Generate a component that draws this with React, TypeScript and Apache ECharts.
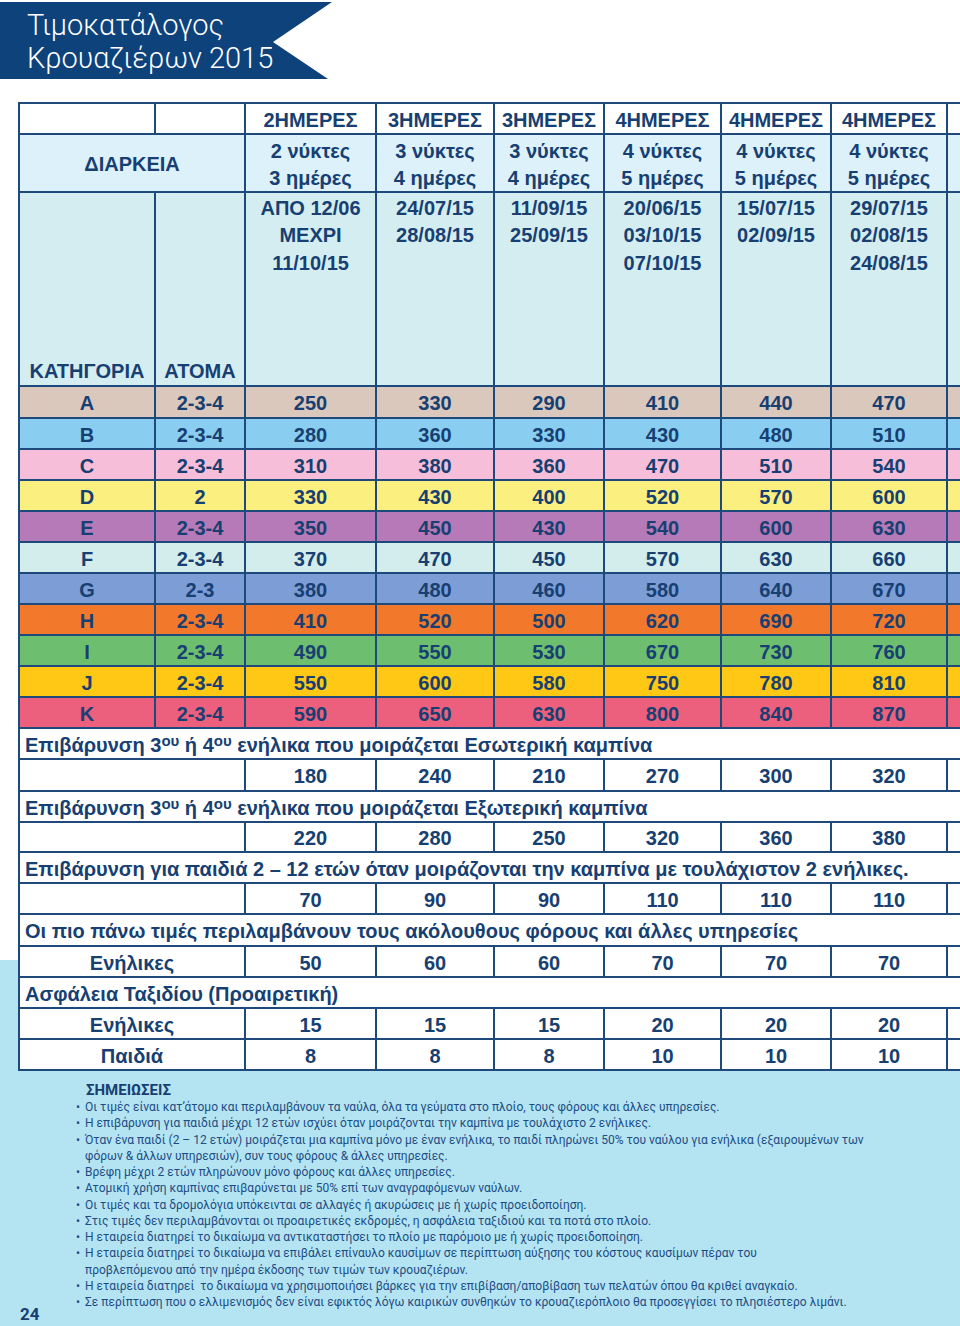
import React, { useEffect, useRef } from 'react';
import * as echarts from 'echarts';

// ---------- DATA ----------
const durationLabels = ['2ΗΜΕΡΕΣ', '3ΗΜΕΡΕΣ', '3ΗΜΕΡΕΣ', '4ΗΜΕΡΕΣ', '4ΗΜΕΡΕΣ', '4ΗΜΕΡΕΣ'];
const nightsLabels = ['2 νύκτες', '3 νύκτες', '3 νύκτες', '4 νύκτες', '4 νύκτες', '4 νύκτες'];
const daysLabels = ['3 ημέρες', '4 ημέρες', '4 ημέρες', '5 ημέρες', '5 ημέρες', '5 ημέρες'];
const dateLabels = [
  ['ΑΠΟ 12/06', 'ΜΕΧΡΙ', '11/10/15'],
  ['24/07/15', '28/08/15'],
  ['11/09/15', '25/09/15'],
  ['20/06/15', '03/10/15', '07/10/15'],
  ['15/07/15', '02/09/15'],
  ['29/07/15', '02/08/15', '24/08/15'],
];
const categories = ['A', 'B', 'C', 'D', 'E', 'F', 'G', 'H', 'I', 'J', 'K'];
const persons = ['2-3-4', '2-3-4', '2-3-4', '2', '2-3-4', '2-3-4', '2-3', '2-3-4', '2-3-4', '2-3-4', '2-3-4'];

const prices2Days = [250, 280, 310, 330, 350, 370, 380, 410, 490, 550, 590];
const prices3DaysA = [330, 360, 380, 430, 450, 470, 480, 520, 550, 600, 650];
const prices3DaysB = [290, 330, 360, 400, 430, 450, 460, 500, 530, 580, 630];
const prices4DaysA = [410, 430, 470, 520, 540, 570, 580, 620, 670, 750, 800];
const prices4DaysB = [440, 480, 510, 570, 600, 630, 640, 690, 730, 780, 840];
const prices4DaysC = [470, 510, 540, 600, 630, 660, 670, 720, 760, 810, 870];

const surchargeInner = [180, 240, 210, 270, 300, 320];
const surchargeOuter = [220, 280, 250, 320, 360, 380];
const surchargeChild = [70, 90, 90, 110, 110, 110];
const taxesAdults = [50, 60, 60, 70, 70, 70];
const insuranceAdults = [15, 15, 15, 20, 20, 20];
const insuranceChildren = [8, 8, 8, 10, 10, 10];

const noteLines = [
  'Οι τιμές είναι κατ’άτομο και περιλαμβάνουν τα ναύλα, όλα τα γεύματα στο πλοίο, τους φόρους και άλλες υπηρεσίες.',
  'Η επιβάρυνση για παιδιά μέχρι 12 ετών ισχύει όταν μοιράζονται την καμπίνα με τουλάχιστο 2 ενήλικες.',
  'Όταν ένα παιδί (2 – 12 ετών) μοιράζεται μια καμπίνα μόνο με έναν ενήλικα, το παιδί πληρώνει 50% του ναύλου για ενήλικα (εξαιρουμένων των',
  '+φόρων & άλλων υπηρεσιών), συν τους φόρους & άλλες υπηρεσίες.',
  'Βρέφη μέχρι 2 ετών πληρώνουν μόνο φόρους και άλλες υπηρεσίες.',
  'Ατομική χρήση καμπίνας επιβαρύνεται με 50% επί των αναγραφόμενων ναύλων.',
  'Οι τιμές και τα δρομολόγια υπόκεινται σε αλλαγές ή ακυρώσεις με ή χωρίς προειδοποίηση.',
  'Στις τιμές δεν περιλαμβάνονται οι προαιρετικές εκδρομές, η ασφάλεια ταξιδιού και τα ποτά στο πλοίο.',
  'Η εταιρεία διατηρεί το δικαίωμα να αντικαταστήσει το πλοίο με παρόμοιο με ή χωρίς προειδοποίηση.',
  'Η εταιρεία διατηρεί το δικαίωμα να επιβάλει επίναυλο καυσίμων σε περίπτωση αύξησης του κόστους καυσίμων πέραν του',
  '+προβλεπόμενου από την ημέρα έκδοσης των τιμών των κρουαζιέρων.',
  'Η εταιρεία διατηρεί  το δικαίωμα να χρησιμοποιήσει βάρκες για την επιβίβαση/αποβίβαση των πελατών όπου θα κριθεί αναγκαίο.',
  'Σε περίπτωση που ο ελλιμενισμός δεν είναι εφικτός λόγω καιρικών συνθηκών το κρουαζιερόπλοιο θα προσεγγίσει το πλησιέστερο λιμάνι.',
];

// ---------- STYLE / LAYOUT ----------
const W = 960;
const H = 1326;
const BORDER = '#1d4a7b';
const TXT = '#173f72';
const NOTE_TXT = '#1d4c85';
const ROW2 = '#dcf1f9';
const ROW3 = '#d4edf0';
const BG_BLUE = '#b4e4f1';
const BANNER = '#0e427b';
const categoryColors = ['#dbc8bd', '#89cef0', '#f6bed8', '#fbef7f', '#b57ab7', '#d3eded', '#7d9dd6', '#f2792c', '#6dbe6e', '#ffc814', '#ec607e'];
const FONT = 'Roboto, "Liberation Sans", sans-serif';
const TFONT = '"Liberation Sans", Arial, sans-serif';

const colX = [19, 155, 245, 376, 494, 604, 721, 831, 947, 992];
const headY = [103, 134, 192, 386];
const catY = [386, 418, 449, 480, 511, 542, 573, 604, 635, 666, 697, 728];
const lowY = [728, 759, 791, 822, 852, 883, 914, 946, 977, 1008, 1039, 1070];

type Cell = {
  x0: number; y0: number; x1: number; y1: number;
  fill: string;
  text?: string;
  align?: 'left' | 'center';
  tx?: number; ty?: number;
  vAlign?: 'top' | 'middle';
  lineHeight?: number;
};

function buildCells(): Cell[] {
  const cells: Cell[] = [];
  const add = (x0: number, y0: number, x1: number, y1: number, fill: string, text?: string, o: Partial<Cell> = {}) =>
    cells.push({ x0, y0, x1, y1, fill, text, ...o });
  const priceColumns = [prices2Days, prices3DaysA, prices3DaysB, prices4DaysA, prices4DaysB, prices4DaysC];
  const [h0, h1, h2, h3] = headY;

  // header row 1
  add(colX[0], h0, colX[1], h1, '#ffffff');
  add(colX[1], h0, colX[2], h1, '#ffffff');
  durationLabels.forEach((d, i) => add(colX[i + 2], h0, colX[i + 3], h1, '#ffffff', d));
  add(colX[8], h0, colX[9], h1, '#ffffff');
  // header row 2
  add(colX[0], h1, colX[2], h2, ROW2, 'ΔΙΑΡΚΕΙΑ');
  nightsLabels.forEach((n, i) =>
    add(colX[i + 2], h1, colX[i + 3], h2, ROW2, n + '\n' + daysLabels[i], { lineHeight: 27, ty: (h1 + h2) / 2 + 1.5 }));
  add(colX[8], h1, colX[9], h2, ROW2);
  // header row 3
  add(colX[0], h2, colX[1], h3, ROW3, 'ΚΑΤΗΓΟΡΙΑ', { ty: h3 - 15 });
  add(colX[1], h2, colX[2], h3, ROW3, 'ΑΤΟΜΑ', { ty: h3 - 15 });
  dateLabels.forEach((d, i) =>
    add(colX[i + 2], h2, colX[i + 3], h3, ROW3, d.join('\n'), { lineHeight: 27.5, vAlign: 'top', ty: h2 + 2 }));
  add(colX[8], h2, colX[9], h3, ROW3);

  // category rows
  categories.forEach((cat, r) => {
    const y0 = catY[r];
    const y1 = catY[r + 1];
    const fill = categoryColors[r];
    add(colX[0], y0, colX[1], y1, fill, cat);
    add(colX[1], y0, colX[2], y1, fill, persons[r]);
    priceColumns.forEach((col, i) => add(colX[i + 2], y0, colX[i + 3], y1, fill, String(col[r])));
    add(colX[8], y0, colX[9], y1, fill);
  });

  // lower section
  const textRow = (k: number, text: string) =>
    add(colX[0], lowY[k], colX[9], lowY[k + 1], '#ffffff', text, { align: 'left', tx: colX[0] + 6 });
  const valueRow = (k: number, label: string, vals: number[]) => {
    add(colX[0], lowY[k], colX[2], lowY[k + 1], '#ffffff', label);
    vals.forEach((v, i) => add(colX[i + 2], lowY[k], colX[i + 3], lowY[k + 1], '#ffffff', String(v)));
    add(colX[8], lowY[k], colX[9], lowY[k + 1], '#ffffff');
  };
  textRow(0, 'Επιβάρυνση 3{sup|ου} ή 4{sup|ου} ενήλικα που μοιράζεται Εσωτερική καμπίνα');
  valueRow(1, '', surchargeInner);
  textRow(2, 'Επιβάρυνση 3{sup|ου} ή 4{sup|ου} ενήλικα που μοιράζεται Εξωτερική καμπίνα');
  valueRow(3, '', surchargeOuter);
  textRow(4, 'Επιβάρυνση για παιδιά 2 – 12 ετών όταν μοιράζονται την καμπίνα με τουλάχιστον 2 ενήλικες.');
  valueRow(5, '', surchargeChild);
  textRow(6, 'Οι πιο πάνω τιμές περιλαμβάνουν τους ακόλουθους φόρους και άλλες υπηρεσίες');
  valueRow(7, 'Ενήλικες', taxesAdults);
  textRow(8, 'Ασφάλεια Ταξιδίου (Προαιρετική)');
  valueRow(9, 'Ενήλικες', insuranceAdults);
  valueRow(10, 'Παιδιά', insuranceChildren);
  return cells;
}

export default function App() {
  const ref = useRef<HTMLDivElement>(null);
  useEffect(() => {
    if (!ref.current) return;
    const chart = echarts.init(ref.current, undefined, { renderer: 'svg' });
    const cells = buildCells();

    const noteGraphics: any[] = [];
    noteLines.forEach((line, i) => {
      const y = 1107 + i * 16.25;
      const cont = line.startsWith('+');
      if (!cont) {
        noteGraphics.push({
          type: 'text', x: 76, y, z: 10,
          style: { text: '•', fill: NOTE_TXT, fontSize: 12, fontFamily: FONT, verticalAlign: 'middle', align: 'left' },
        });
      }
      noteGraphics.push({
        type: 'text', x: 85, y, z: 10,
        style: { text: cont ? line.slice(1) : line, fill: NOTE_TXT, fontSize: 12, fontFamily: FONT, verticalAlign: 'middle', align: 'left' },
      });
    });

    chart.setOption({
      animation: false,
      backgroundColor: '#ffffff',
      grid: { left: 0, right: 0, top: 0, bottom: 0 },
      xAxis: { type: 'value', min: 0, max: W, show: false },
      yAxis: { type: 'value', min: 0, max: H, inverse: true, show: false },
      graphic: [
        { type: 'rect', z: 0, shape: { x: 0, y: 960, width: W, height: H - 960 }, style: { fill: BG_BLUE } },
        {
          type: 'polygon', z: 5,
          shape: { points: [[0, 2], [332, 2], [273, 42], [328, 79], [0, 79]] },
          style: { fill: BANNER },
        },
        {
          type: 'text', x: 27, y: 25, z: 6,
          style: { text: 'Τιμοκατάλογος', fill: '#ffffff', fontSize: 29, fontWeight: 300, fontFamily: FONT, verticalAlign: 'middle' },
        },
        {
          type: 'text', x: 27, y: 58, z: 6,
          style: { text: 'Κρουαζιέρων 2015', fill: '#ffffff', fontSize: 29, fontWeight: 300, fontFamily: FONT, verticalAlign: 'middle' },
        },
        {
          type: 'text', x: 86, y: 1090, z: 10,
          style: { text: 'ΣΗΜΕΙΩΣΕΙΣ', fill: TXT, fontSize: 15, fontWeight: 'bold', fontFamily: FONT, verticalAlign: 'middle' },
        },
        {
          type: 'text', x: 20, y: 1314, z: 10,
          style: { text: '24', fill: TXT, fontSize: 17, fontWeight: 'bold', fontFamily: FONT, verticalAlign: 'middle' },
        },
        ...noteGraphics,
      ],
      series: [
        {
          type: 'custom',
          z: 3,
          clip: false,
          encode: { x: [0, 2], y: [1, 3] },
          data: cells.map((c) => [c.x0, c.y0, c.x1, c.y1]),
          renderItem: (params: any, api: any) => {
            const c = cells[params.dataIndex];
            const p0 = api.coord([c.x0, c.y0]);
            const p1 = api.coord([c.x1, c.y1]);
            const children: any[] = [
              {
                type: 'rect',
                shape: { x: p0[0], y: p0[1], width: p1[0] - p0[0], height: p1[1] - p0[1] },
                style: { fill: c.fill, stroke: BORDER, lineWidth: 2 },
              },
            ];
            if (c.text) {
              const tp = api.coord([
                c.tx !== undefined ? c.tx : (c.x0 + c.x1) / 2,
                c.ty !== undefined ? c.ty : (c.y0 + c.y1) / 2 + 1,
              ]);
              children.push({
                type: 'text',
                x: tp[0],
                y: tp[1],
                style: {
                  text: c.text,
                  fill: TXT,
                  fontSize: 20,
                  fontWeight: 'bold',
                  fontFamily: TFONT,
                  align: c.align || 'center',
                  verticalAlign: c.vAlign || 'middle',
                  lineHeight: c.lineHeight || 24,
                  rich: {
                    sup: { fontSize: 15, fontWeight: 'bold', fontFamily: TFONT, fill: TXT, verticalAlign: 'top', lineHeight: 16 },
                  },
                },
              });
            }
            return { type: 'group', children };
          },
        },
      ],
    });
    return () => chart.dispose();
  }, []);
  return <div ref={ref} style={{ position: 'absolute', left: 0, top: 0, width: W, height: H }} />;
}
